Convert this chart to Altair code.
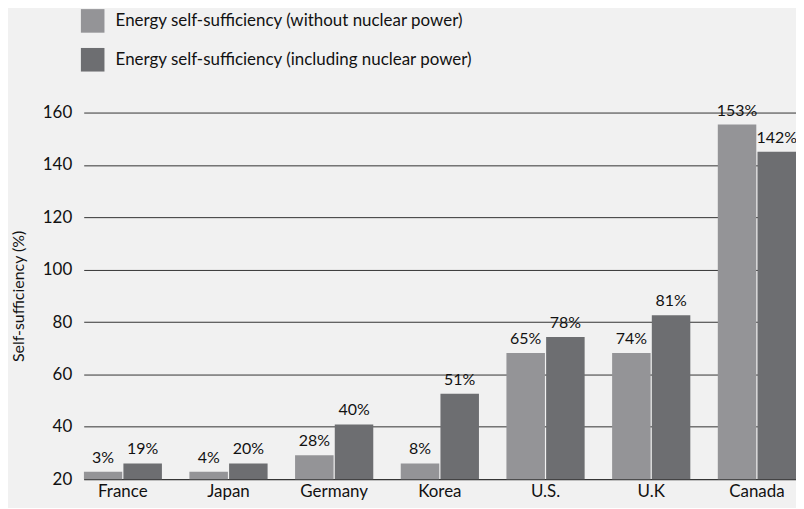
import altair as alt
import pandas as pd

countries = ["France", "Japan", "Germany", "Korea", "U.S.", "U.K", "Canada"]
series = ["Energy self-sufficiency (without nuclear power)",
          "Energy self-sufficiency (including nuclear power)"]
without_vals = [22.8, 22.8, 29.1, 26.0, 68.2, 68.2, 155.4]
including_vals = [26.0, 26.0, 40.9, 52.6, 74.3, 82.6, 145.0]
without_labels = ["3%", "4%", "28%", "8%", "65%", "74%", "153%"]
including_labels = ["19%", "20%", "40%", "51%", "78%", "81%", "142%"]
y_ticks = [20, 40, 60, 80, 100, 120, 140, 160]

rows = []
for c, v, l in zip(countries, without_vals, without_labels):
    rows.append({"country": c, "series": series[0], "value": v, "label": l})
for c, v, l in zip(countries, including_vals, including_labels):
    rows.append({"country": c, "series": series[1], "value": v, "label": l})
df = pd.DataFrame(rows)

FONT = "Lato"

x = alt.X("country:N", sort=countries, title=None,
          scale=alt.Scale(paddingInner=0.26, paddingOuter=0.0),
          axis=alt.Axis(labelAngle=0, labelFontSize=17, labelColor="#111", labelPadding=4,
                        ticks=False, domain=True, domainColor="#333", labelFont=FONT,
                        labelBaseline="top"))
xoff = alt.XOffset("series:N", sort=series, scale=alt.Scale(paddingInner=0.03))
y = alt.Y("value:Q", title="Self-sufficiency (%)",
          scale=alt.Scale(domain=[20, 160], nice=False, zero=False),
          axis=alt.Axis(values=y_ticks, grid=True, gridColor="#333", gridWidth=1,
                        ticks=False, domain=False, labelPadding=12, labelFontSize=17,
                        labelColor="#111", titleFontSize=16, titleFontWeight="normal",
                        titleColor="#111", titlePadding=16, labelFont=FONT, titleFont=FONT))

bars = alt.Chart(df).mark_bar(clip=True).encode(
    x=x, xOffset=xoff, y=y,
    color=alt.Color("series:N", sort=series,
                    scale=alt.Scale(domain=series, range=["#949497", "#6d6e71"]),
                    legend=alt.Legend(title=None, orient="none", legendX=-3, legendY=-104,
                                      symbolType="square", symbolSize=560, symbolStrokeWidth=0,
                                      labelFontSize=17, labelColor="#111", rowPadding=15,
                                      labelOffset=11, labelFont=FONT, padding=0,
                                      labelLimit=600)),
)

texts = alt.Chart(df).mark_text(baseline="alphabetic", dy=-9, fontSize=16, color="#111",
                                font=FONT).encode(
    x=alt.X("country:N", sort=countries),
    xOffset=alt.XOffset("series:N", sort=series),
    y=alt.Y("value:Q"),
    text="label:N",
)

chart = alt.layer(bars, texts).properties(
    width=715, height=368,
    background="#f1f1f1",
    padding={"left": 76, "top": 104, "right": 0, "bottom": 28},
    autosize=alt.AutoSizeParams(type="none"),
).configure_view(stroke=None)

chart.save("out.html", embed_options={"renderer": "svg", "actions": False})
